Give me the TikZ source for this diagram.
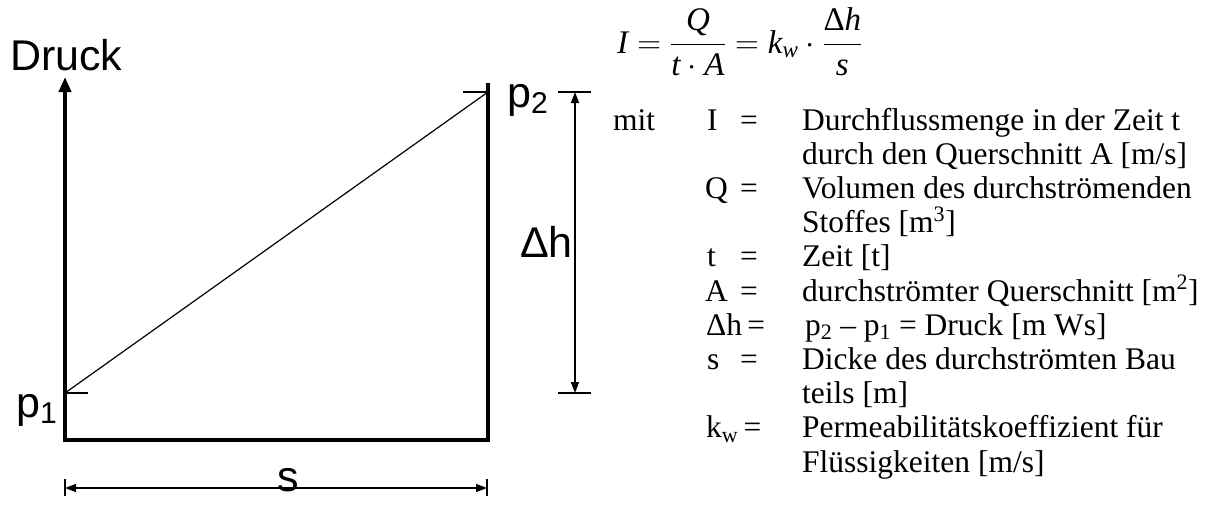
\documentclass[tikz,border=0pt]{standalone}
\usepackage{fix-cm}
\usepackage{amsmath}
\usepackage{fontspec}
\setmainfont{Liberation Serif}
\newfontfamily\arialfont{Liberation Sans}
\usetikzlibrary{arrows.meta}

\begin{document}
\begin{tikzpicture}[x=1pt, y=-1pt, >={Triangle[length=11pt,width=8pt]},
  boldline/.style={line width=4pt},
  fineline/.style={line width=1.2pt},
  dimline/.style={line width=1.4pt, <->},
  sanslbl/.style={font=\arialfont\fontsize{43}{50}\selectfont, inner sep=0pt},
  legend/.style={font=\fontsize{31.5}{36}\selectfont, inner sep=0pt, anchor=base west}]
  \useasboundingbox (0,0) rectangle (1210,509);

  % diagram corners
  \coordinate (tip) at (65,77);
  \coordinate (o) at (65,440);
  \coordinate (br) at (488,440);
  \coordinate (tr) at (488,83);
  \coordinate (p1) at (65,393);
  \coordinate (p1t) at (88,393);
  \coordinate (p2) at (488,92);
  \coordinate (p2t) at (463,92);
  \coordinate (dhtop) at (575,92);
  \coordinate (dhbot) at (575,393);
  \coordinate (sl) at (65,488);
  \coordinate (sr) at (487,488);

  \draw[boldline, {Triangle[length=15pt,width=12pt]}-] (tip) -- (o) -- (br) -- (tr);
  \draw[fineline] (p1) -- (p2);
  \draw[fineline] (p1) -- (p1t);
  \draw[fineline] (p2t) -- (p2);

  % dimensions
  \draw[fineline] ([xshift=-17pt]dhtop) -- ([xshift=16pt]dhtop);
  \draw[fineline] ([xshift=-17pt]dhbot) -- ([xshift=16pt]dhbot);
  \draw[dimline] (dhtop) -- (dhbot);
  \draw[fineline] ([yshift=9pt]sl) -- ([yshift=-8pt]sl);
  \draw[fineline] ([yshift=9pt]sr) -- ([yshift=-8pt]sr);
  \draw[dimline] (sl) -- (sr);

  \node[sanslbl, anchor=base west] (druck) at (10,70) {Druck};
  \node[sanslbl, anchor=base west] (lp1) at (16,417) {p\textsubscript{1}};
  \node[sanslbl, anchor=base west] (lp2) at (507,107) {p\textsubscript{2}};
  \node[sanslbl, anchor=base east] (ldh) at (573,257) {Δh};
  \node[sanslbl, anchor=base] (ls) at (288,491) {s};

  % formula and legend
  \node[inner sep=0pt, anchor=base west, font=\fontsize{33}{38}\selectfont] (formel) at (617,53)
    {$\displaystyle \textit{I} = \frac{\textit{Q}}{\textit{t}\cdot\textit{A}} = \textit{k}_{\textit{w}}\cdot\frac{\textup{Δ}\textit{h}}{\textit{s}}$};

  \node[legend] (mit) at (613,130) {mit};
  \node[legend] (sI) at (707,130) {I};
  \node[legend] (eI) at (740,130) {=};
  \node[legend] (tI) at (802,130) {Durchflussmenge in der Zeit t};
  \node[legend] (tI2) at (802,164.2) {durch den Querschnitt A [m/s]};
  \node[legend] (sQ) at (705,198.4) {Q};
  \node[legend] (eQ) at (740,198.4) {=};
  \node[legend] (tQ) at (802,198.4) {Volumen des durchströmenden};
  \node[legend] (tQ2) at (802,232.6) {Stoffes [m\textsuperscript{3}]};
  \node[legend] (st) at (707,266.8) {t};
  \node[legend] (et) at (740,266.8) {=};
  \node[legend] (tt) at (802,266.8) {Zeit [t]};
  \node[legend] (sA) at (705,301) {A};
  \node[legend] (eA) at (740,301) {=};
  \node[legend] (tA) at (802,301) {durchströmter Querschnitt [m\textsuperscript{2}]};
  \node[legend] (sdh) at (706,335.2) {Δh\,=};
  \node[legend] (tdh) at (805,335.2) {p\textsubscript{2} – p\textsubscript{1} = Druck [m Ws]};
  \node[legend] (ss) at (707,369.4) {s};
  \node[legend] (es) at (740,369.4) {=};
  \node[legend] (ts) at (802,369.4) {Dicke des durchströmten Bau};
  \node[legend] (ts2) at (802,403.6) {teils [m]};
  \node[legend] (skw) at (706,437.8) {k\textsubscript{w}\,=};
  \node[legend] (tkw) at (802,437.8) {Permeabilitätskoeffizient für};
  \node[legend] (tkw2) at (802,472) {Flüssigkeiten [m/s]};
\end{tikzpicture}
\end{document}
